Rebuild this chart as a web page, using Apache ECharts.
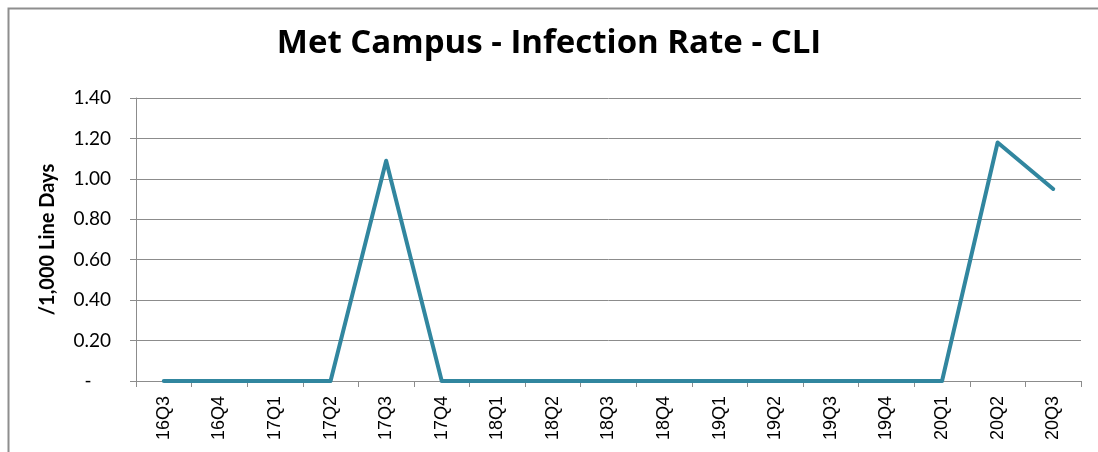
<!DOCTYPE html>
<html>
<head>
<meta charset="utf-8">
<script src="https://cdn.jsdelivr.net/npm/echarts@6/dist/echarts.min.js"></script>
<style>html,body{margin:0;padding:0;background:#fff;}#c{width:1098px;height:452px;}</style>
</head>
<body>
<div id="c"></div>
<script>
const categories = ['16Q3','16Q4','17Q1','17Q2','17Q3','17Q4','18Q1','18Q2','18Q3','18Q4','19Q1','19Q2','19Q3','19Q4','20Q1','20Q2','20Q3'];
const rates = [0,0,0,0,1.09,0,0,0,0,0,0,0,0,0,0,1.18,0.95];
const titleText = 'Met Campus - Infection Rate - CLI';
const yAxisName = '/1,000 Line Days';

const chart = echarts.init(document.getElementById('c'));
chart.setOption({
  animation: false,
  backgroundColor: '#fff',
  graphic: [{
    type: 'rect', left: 6, top: 6, silent: true,
    shape: { width: 1100, height: 470 },
    style: { fill: 'none', stroke: '#8e8e8e', lineWidth: 2 }
  }],
  title: {
    text: titleText, left: 'center', top: 22,
    textStyle: { fontFamily: 'Open Sans', fontWeight: 'bold', fontSize: 33, color: '#000' }
  },
  grid: { left: 136, right: 17, top: 98, bottom: 71 },
  xAxis: {
    type: 'category', data: categories, boundaryGap: true,
    axisLine: { lineStyle: { color: '#8c8c8c', width: 1 } },
    axisTick: { show: true, length: 6, interval: 0, lineStyle: { color: '#8c8c8c' } },
    axisLabel: { rotate: 90, interval: 0, margin: 15, fontFamily: 'Liberation Sans', fontSize: 18, color: '#000' }
  },
  yAxis: {
    type: 'value', min: 0, max: 1.4, interval: 0.2,
    name: yAxisName, nameLocation: 'middle', nameGap: 78, nameRotate: 90,
    nameTextStyle: { fontFamily: 'Lato', fontWeight: 'bold', fontSize: 20, color: '#000' },
    axisLine: { show: true, lineStyle: { color: '#8c8c8c' } },
    axisTick: { show: true, length: 6, lineStyle: { color: '#8c8c8c' } },
    splitLine: { lineStyle: { color: '#8c8c8c', width: 1 } },
    axisLabel: {
      margin: 25, fontFamily: 'Lato', fontSize: 19, color: '#000',
      formatter: v => v === 0 ? '-    ' : v.toFixed(2)
    }
  },
  series: [{
    type: 'line', data: rates, symbol: 'none',
    lineStyle: { color: '#31869f', width: 4, join: 'round', cap: 'round' }
  }]
});
</script>
</body>
</html>
